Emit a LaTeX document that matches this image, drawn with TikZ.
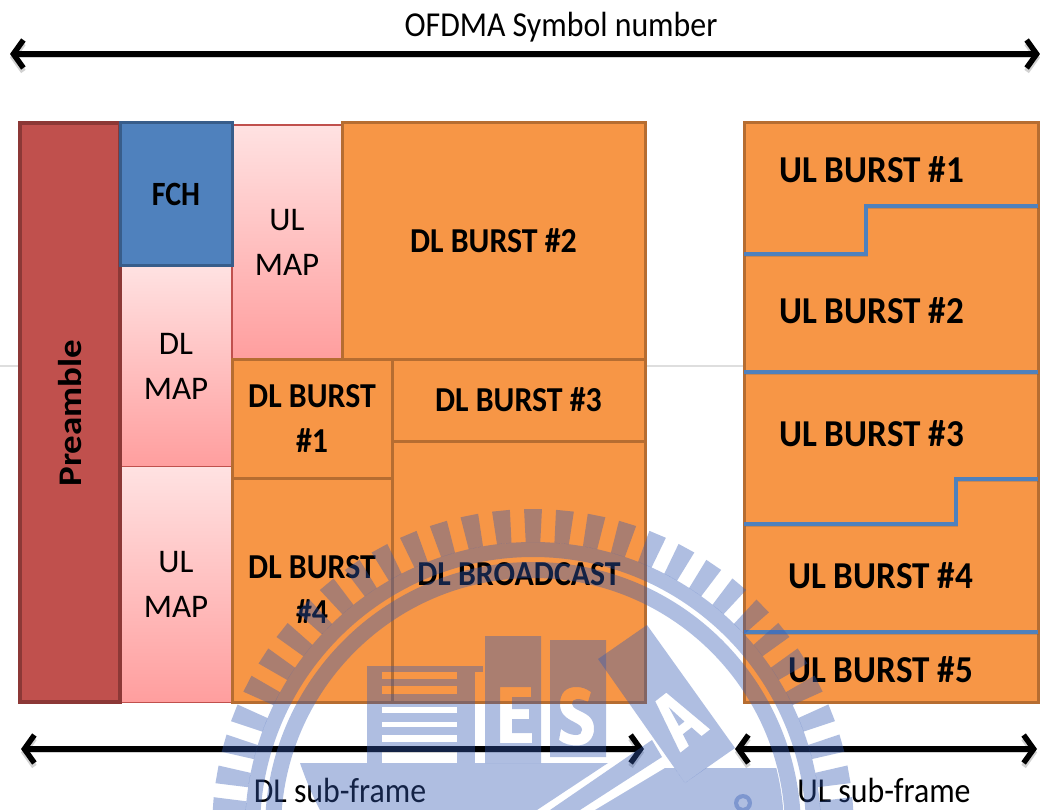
\documentclass[tikz,border=0pt]{standalone}
\usepackage{fontspec}
\setmainfont{Carlito}
\usetikzlibrary{arrows.meta,calc}
\definecolor{orangefill}{HTML}{F79646}
\definecolor{orangeline}{HTML}{B66D31}
\definecolor{redfill}{HTML}{C0504D}
\definecolor{redline}{HTML}{8C3836}
\definecolor{bluefill}{HTML}{4F81BD}
\definecolor{blueline}{HTML}{385D8A}
\definecolor{pinktop}{HTML}{FFE2E2}
\definecolor{pinkbot}{HTML}{FF9E9E}
\definecolor{sealcolor}{RGB}{51,90,180}
\newcommand{\narrowed}[1]{\scalebox{.91}[1]{#1}}
\newcommand{\ulnarrowed}[1]{\scalebox{.925}[1]{#1}}
\newcommand{\widened}[1]{\scalebox{1.12}[1]{#1}}
\tikzset{
  sized/.style 2 args={rectangle,inner sep=0pt,align=center,minimum width=#1,minimum height=#2},
  burstbox/.style={draw=orangeline,fill=orangefill,line width=3pt,font=\fontsize{35}{45}\selectfont\bfseries},
  mapbox/.style={draw=redfill,line width=1.6pt,top color=pinktop,bottom color=pinkbot,font=\fontsize{33}{45}\selectfont},
  fchbox/.style={draw=blueline,fill=bluefill,line width=3pt,font=\fontsize{34}{40}\selectfont\bfseries},
  prebox/.style={draw=redline,fill=redfill,line width=3.4pt},
  burstlabel/.style={inner sep=0pt,font=\fontsize{38}{45}\selectfont\bfseries},
  spanlabel/.style={inner sep=0pt,anchor=base,font=\fontsize{35}{40}\selectfont},
  spanarrow/.style={line width=6.5pt,{Straight Barb[length=10pt,width=28pt,line width=5.5pt]}-{Straight Barb[length=10pt,width=28pt,line width=5.5pt]},
     preaction={draw=black!50,draw opacity=.35,transform canvas={yshift=-3.5pt}}},
  stepline/.style={draw=bluefill,line width=3.2pt,preaction={draw=black!60,draw opacity=.3,transform canvas={yshift=-2.5pt,xshift=1pt}}},
  sealfill/.style={fill=sealcolor,fill opacity=.39},
}
\begin{document}
\begin{tikzpicture}[x=1pt,y=-1pt]
  \useasboundingbox (0,0) rectangle (1040,810);
  \fill[white] (0,0) rectangle (1040,810);
  % faint background rule
  \coordinate (ruleL) at (0,366);
  \coordinate (ruleR) at (1040,366);
  \draw[black!13,line width=1.5pt] (ruleL) -- (ruleR);
  % pink map boxes
  \node[sized={112pt}{201pt},mapbox] (dlmap) at (176,366) {DL\\MAP};
  \node[sized={112pt}{236pt},mapbox] (ulmapb) at (176,584.5) {UL\\MAP};
  \node[sized={110pt}{235pt},mapbox] (ulmapt) at (287,242.5) {UL\\MAP};
  % preamble + fch
  \node[sized={100pt}{579pt},prebox] (pre) at (70,412.5) {};
  \node[rotate=90,inner sep=0pt,font=\fontsize{33}{36}\selectfont\bfseries] (pretext) at (70,413) {\widened{Preamble}};
  \node[sized={112pt}{142pt},fchbox] (fch) at (176,194) {\raisebox{-2pt}{\scalebox{.88}[1]{FCH}}};
  % DL bursts
  \node[sized={303pt}{236pt},burstbox] (dl2) at (493.5,241) {\raisebox{-2pt}{\narrowed{DL BURST \#2}}};
  \node[sized={160pt}{119pt},burstbox] (dl1) at (312,418.5) {\narrowed{DL BURST}\\\narrowed{\#1}};
  \node[sized={253pt}{82pt},burstbox] (dl3) at (518.5,400) {\raisebox{-2pt}{\narrowed{DL BURST \#3}}};
  \node[sized={160pt}{224pt},burstbox] (dl4) at (312,590) {\narrowed{DL BURST}\\\narrowed{\#4}};
  \node[sized={253pt}{261pt},burstbox] (dlb) at (518.5,571.5) {};
  \node[inner sep=0pt,font=\fontsize{35}{40}\selectfont\bfseries] (dlbtext) at (519,574) {\narrowed{DL BROADCAST}};
  % UL frame
  \node[sized={294pt}{579pt},burstbox] (ul) at (891,412.5) {};
  \coordinate (a1) at (744,254); \coordinate (a2) at (866,254); \coordinate (a3) at (866,206); \coordinate (a4) at (1038,206);
  \coordinate (b1) at (744,372); \coordinate (b2) at (1038,372);
  \coordinate (d1) at (744,524); \coordinate (d2) at (956,524); \coordinate (d3) at (956,479); \coordinate (d4) at (1038,479);
  \coordinate (e1) at (744,632); \coordinate (e2) at (1038,632);
  \draw[stepline] (a1) -- (a2) -- (a3) -- (a4);
  \draw[stepline] (b1) -- (b2);
  \draw[stepline] (d1) -- (d2) -- (d3) -- (d4);
  \draw[stepline] (e1) -- (e2);
  \node[burstlabel,anchor=west] (u1) at (779,170) {\ulnarrowed{UL BURST \#1}};
  \node[burstlabel,anchor=west] (u2) at (779,311) {\ulnarrowed{UL BURST \#2}};
  \node[burstlabel,anchor=west] (u3) at (779,434) {\ulnarrowed{UL BURST \#3}};
  \node[burstlabel,anchor=west] (u4) at (788,576) {\ulnarrowed{UL BURST \#4}};
  \node[burstlabel,anchor=west] (u5) at (788,670) {\ulnarrowed{UL BURST \#5}};
  % span arrows
  \coordinate (t1) at (10,54); \coordinate (t2) at (1040,54);
  \coordinate (l1) at (21,749); \coordinate (l2) at (644,749);
  \coordinate (r1) at (735,749); \coordinate (r2) at (1037,749);
  \draw[spanarrow] (t1) -- (t2);
  \draw[spanarrow] (l1) -- (l2);
  \draw[spanarrow] (r1) -- (r2);
  \node[spanlabel] (top) at (561,37) {\narrowed{OFDMA Symbol number}};
  \node[spanlabel] (dls) at (340,802) {\narrowed{DL sub-frame}};
  \node[spanlabel] (uls) at (884,802) {\narrowed{UL sub-frame}};
  % seal watermark
  \begin{scope}
    \clip (0,0) rectangle (1040,810);
    \coordinate (c) at (533,830);
    \foreach \k in {0,...,62}{
      \pgfmathsetmacro{\a}{-90+\k*5.714}
      \fill[sealfill] ($(c)+(\a-1.6:321)$) -- ($(c)+(\a+1.6:321)$) -- ($(c)+(\a+1.45:288)$) -- ($(c)+(\a-1.45:288)$) -- cycle;
    }
    \fill[sealfill,even odd rule] (c) circle (288pt) (c) circle (273pt);
    \fill[sealfill,even odd rule] (c) circle (268pt) (c) circle (252pt);
    % lower regions
    \fill[sealfill] (300,763) .. controls (306,780) and (312,795) .. (320,810) -- (537,810) -- (608,763) -- cycle;
    \fill[sealfill] (652,740) -- (662,757) -- (580,810) -- (550,810) -- cycle;
    \begin{scope}
      \clip (c) circle (251pt);
      \fill[sealfill] (665,768) -- (674.5,768) -- (685,783) -- (706,768) -- (800,768) -- (800,810) -- (595,810) -- cycle;
    \end{scope}
    % diamond with the letter A left open
    \fill[sealfill,even odd rule] (647,625) -- (598,659) -- (685,783) -- (735,748) -- cycle
      {[shift={(678,719)},rotate=38]
        (-7,-28) -- (7,-28) -- (19,28) -- (8,28) -- (5.5,15) -- (-5.5,15) -- (-8,28) -- (-19,28) -- cycle
        (0,-15) -- (3.5,6) -- (-3.5,6) -- cycle};
    % building
    \fill[sealfill] (367,666) rectangle (483,672);
    \fill[sealfill] (367,672) rectangle (382,763);
    \fill[sealfill] (457,672) rectangle (475,763);
    \foreach \ya/\yb in {679/686,694/707,713/722,727/735,742/752}{\fill[sealfill] (382,\ya) rectangle (457,\yb);}
    % E block with the letter left open
    \fill[sealfill,even odd rule] (485,636) rectangle (541,763)
      (500,687) -- (531,687) -- (531,697) -- (512,697) -- (512,709) -- (529,709) -- (529,719) -- (512,719) -- (512,733) -- (532,733) -- (532,743) -- (500,743) -- cycle;
    % S block with the letter left open
    \fill[sealfill,even odd rule] (550,640) rectangle (606,757)
      (591,692) .. controls (586,688.5) and (582,687) .. (576,687)
      .. controls (566,687) and (560,693) .. (560,704)
      .. controls (560,714) and (566,718) .. (574,722)
      .. controls (580,725) and (582,727) .. (582,730)
      .. controls (582,733) and (580,735) .. (576,735)
      .. controls (571,735) and (566,733) .. (561,729)
      -- (559,740)
      .. controls (564,744) and (570,745.5) .. (577,745.5)
      .. controls (588,745.5) and (594,738) .. (594,729)
      .. controls (594,719) and (589,715) .. (580,711)
      .. controls (574,708) and (572,706.5) .. (572,704)
      .. controls (572,701) and (574,699) .. (577,699)
      .. controls (581,699) and (584,700) .. (588,702)
      -- cycle;
    % small mark
    \fill[sealfill,even odd rule] (743,803) circle (9pt) (743,803) circle (5pt);
  \end{scope}
\end{tikzpicture}
\end{document}
